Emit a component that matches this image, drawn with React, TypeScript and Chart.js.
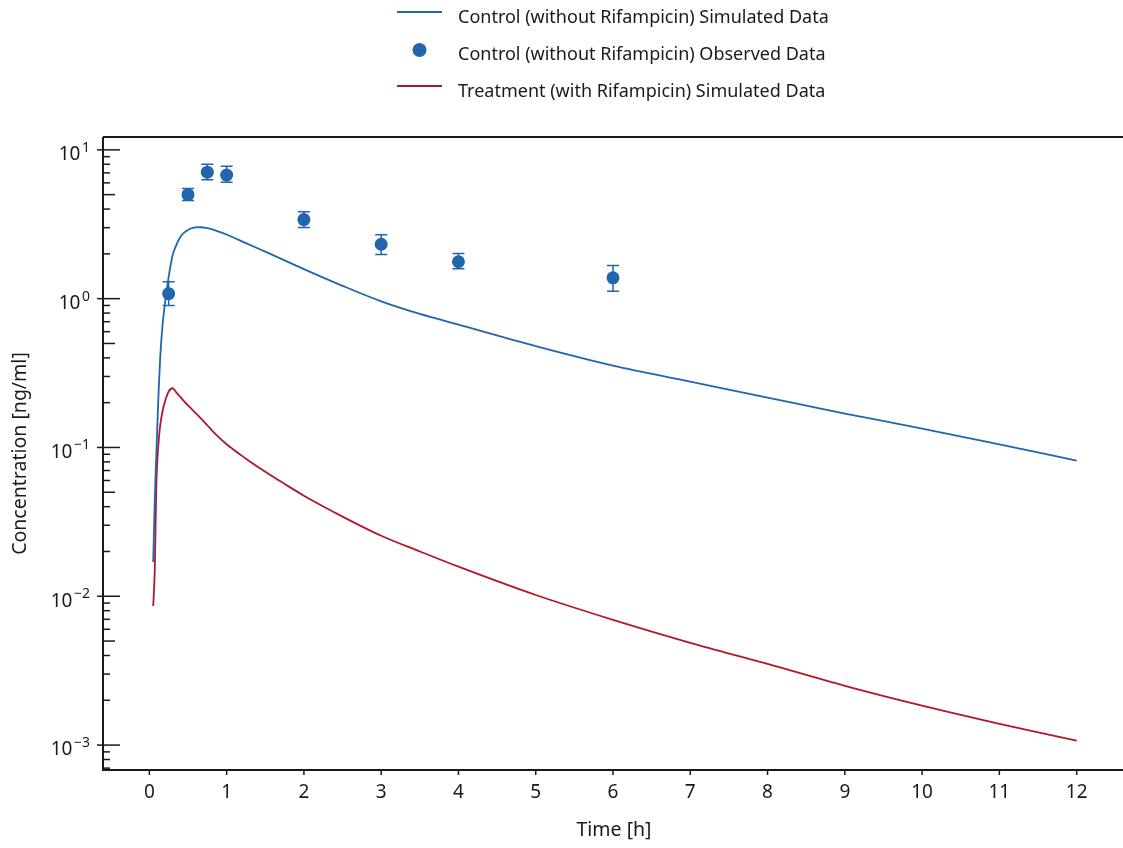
import React, { useEffect, useRef } from "react";
import { Chart, registerables } from "chart.js";

Chart.register(...registerables);

// ---------- data ----------
const simTime = [
  0.05, 0.07, 0.09, 0.12, 0.14, 0.17, 0.21, 0.25, 0.3, 0.35, 0.4, 0.45, 0.53,
  0.6, 0.66, 0.75, 0.85, 1.0, 1.25, 1.5, 1.75, 2, 2.5, 3, 3.5, 4, 5, 6, 7, 8,
  9, 10, 11, 12,
];
const controlSimulated = [
  0.017, 0.045, 0.09, 0.24, 0.4, 0.66, 1.0, 1.4, 1.95, 2.3, 2.6, 2.78, 2.95,
  3.01, 3.02, 2.98, 2.88, 2.7, 2.36, 2.07, 1.81, 1.58, 1.22, 0.96, 0.79, 0.67,
  0.48, 0.355, 0.277, 0.216, 0.169, 0.134, 0.105, 0.0815,
];
const treatmentSimulated = [
  0.0086, 0.015, 0.055, 0.11, 0.14, 0.175, 0.21, 0.238, 0.25, 0.234, 0.219,
  0.204, 0.185, 0.17, 0.158, 0.141, 0.124, 0.105, 0.0841, 0.0687, 0.0569,
  0.0474, 0.0343, 0.0255, 0.02, 0.0158, 0.0102, 0.00695, 0.00487, 0.00351,
  0.0025, 0.00184, 0.00139, 0.00107,
];
const obsTime = [0.25, 0.5, 0.75, 1, 2, 3, 4, 6];
const obsValue = [1.08, 5.0, 7.08, 6.77, 3.4, 2.32, 1.77, 1.38];
const obsLower = [0.9, 4.56, 6.3, 6.05, 3.01, 1.98, 1.59, 1.12];
const obsUpper = [1.3, 5.49, 8.0, 7.75, 3.83, 2.69, 2.01, 1.67];

const xTicks = [0, 1, 2, 3, 4, 5, 6, 7, 8, 9, 10, 11, 12];
const yMajorTicks = [1e-3, 1e-2, 1e-1, 1, 10];
const yTickExponents = ["−3", "−2", "−1", "0", "1"];

const seriesLabels = [
  "Control (without Rifampicin) Simulated Data",
  "Control (without Rifampicin) Observed Data",
  "Treatment (with Rifampicin) Simulated Data",
];
const xTitle = "Time [h]";
const yTitle = "Concentration [ng/ml]";

const BLUE = "#2166ac";
const RED = "#b2182b";
const AXIS = "#1a1a1a";
const FONT = "'Noto Sans', 'Open Sans', sans-serif";

const decorPlugin = {
  id: "decor",
  beforeDatasetsDraw(chart: any) {
    const ctx = chart.ctx;
    const x = chart.scales.x;
    const y = chart.scales.y;
    ctx.save();
    ctx.strokeStyle = BLUE;
    ctx.lineWidth = 1.5;
    obsTime.forEach((t, i) => {
      const px = x.getPixelForValue(t);
      const top = y.getPixelForValue(obsUpper[i]);
      const bot = y.getPixelForValue(obsLower[i]);
      ctx.beginPath();
      ctx.moveTo(px, top);
      ctx.lineTo(px, bot);
      ctx.moveTo(px - 6, top);
      ctx.lineTo(px + 6, top);
      ctx.moveTo(px - 6, bot);
      ctx.lineTo(px + 6, bot);
      ctx.stroke();
    });
    ctx.restore();
  },
  afterDraw(chart: any) {
    const ctx = chart.ctx;
    const area = chart.chartArea;
    const x = chart.scales.x;
    const y = chart.scales.y;
    ctx.save();
    // axes
    ctx.strokeStyle = AXIS;
    ctx.lineWidth = 2;
    ctx.beginPath();
    ctx.moveTo(area.left, area.top);
    ctx.lineTo(area.right, area.top);
    ctx.moveTo(area.left, area.top);
    ctx.lineTo(area.left, area.bottom);
    ctx.lineTo(area.right, area.bottom);
    ctx.stroke();

    // x ticks
    ctx.lineWidth = 1.5;
    ctx.fillStyle = AXIS;
    ctx.font = `19px ${FONT}`;
    ctx.textAlign = "center";
    ctx.textBaseline = "middle";
    xTicks.forEach((v) => {
      const px = x.getPixelForValue(v);
      ctx.beginPath();
      ctx.moveTo(px, area.bottom);
      ctx.lineTo(px, area.bottom + 5);
      ctx.stroke();
      ctx.fillText(String(v), px, area.bottom + 23);
    });

    // y ticks (major + minor)
    const lo = Math.floor(Math.log10(y.min));
    const hi = Math.ceil(Math.log10(y.max));
    for (let e = lo; e <= hi; e++) {
      for (let m = 1; m <= 9; m++) {
        const v = m * Math.pow(10, e);
        if (v < y.min || v > y.max) continue;
        const py = y.getPixelForValue(v);
        const len = m === 1 ? 17 : m === 5 ? 12 : 7;
        ctx.beginPath();
        ctx.moveTo(area.left - (m === 1 ? 6 : 0), py);
        ctx.lineTo(area.left + len, py);
        ctx.stroke();
      }
    }
    yMajorTicks.forEach((v, i) => {
      const py = y.getPixelForValue(v);
      const exp = yTickExponents[i];
      ctx.textAlign = "right";
      ctx.textBaseline = "middle";
      ctx.font = `14px ${FONT}`;
      const ew = ctx.measureText(exp).width;
      ctx.fillText(exp, area.left - 13, py - 2);
      ctx.font = `19px ${FONT}`;
      ctx.fillText("10", area.left - 13 - ew - 1.5, py + 5);
    });

    // axis titles
    ctx.font = `19.5px ${FONT}`;
    ctx.textAlign = "center";
    ctx.textBaseline = "middle";
    ctx.fillText(xTitle, (area.left + area.right) / 2 + 1, 830);
    ctx.save();
    ctx.translate(20, (area.top + area.bottom) / 2);
    ctx.rotate(-Math.PI / 2);
    ctx.fillText(yTitle, 0, 0);
    ctx.restore();

    // legend
    const rows = [18, 55, 92];
    ctx.textAlign = "left";
    ctx.font = `18px ${FONT}`;
    ctx.fillStyle = "#1a1a1a";
    seriesLabels.forEach((lab, i) => {
      ctx.fillText(lab, 458, rows[i]);
    });
    ctx.lineWidth = 2;
    ctx.strokeStyle = BLUE;
    ctx.beginPath();
    ctx.moveTo(397, 12);
    ctx.lineTo(442, 12);
    ctx.stroke();
    ctx.strokeStyle = RED;
    ctx.beginPath();
    ctx.moveTo(397, 86);
    ctx.lineTo(442, 86);
    ctx.stroke();
    ctx.fillStyle = BLUE;
    ctx.beginPath();
    ctx.arc(419.5, 50, 7, 0, Math.PI * 2);
    ctx.fill();
    ctx.restore();
  },
};

export default function App() {
  const ref = useRef<HTMLCanvasElement | null>(null);
  useEffect(() => {
    if (!ref.current) return;
    const chart = new Chart(ref.current, {
      type: "line",
      data: {
        datasets: [
          {
            label: seriesLabels[0],
            data: simTime.map((t, i) => ({ x: t, y: controlSimulated[i] })),
            borderColor: BLUE,
            borderWidth: 1.8,
            pointRadius: 0,
            cubicInterpolationMode: "monotone",
            fill: false,
          },
          {
            label: seriesLabels[1],
            data: obsTime.map((t, i) => ({ x: t, y: obsValue[i] })),
            showLine: false,
            pointRadius: 6.5,
            pointBackgroundColor: BLUE,
            pointBorderColor: BLUE,
            pointBorderWidth: 0,
            backgroundColor: BLUE,
          },
          {
            label: seriesLabels[2],
            data: simTime.map((t, i) => ({ x: t, y: treatmentSimulated[i] })),
            borderColor: RED,
            borderWidth: 1.8,
            pointRadius: 0,
            cubicInterpolationMode: "monotone",
            fill: false,
          },
        ],
      },
      options: {
        responsive: false,
        animation: false,
        events: [],
        layout: { autoPadding: false, padding: { top: 137, left: 0, right: 0, bottom: 0 } },
        plugins: { legend: { display: false }, tooltip: { enabled: false } },
        scales: {
          x: {
            type: "linear",
            min: -0.6,
            max: 12.6,
            grid: { display: false },
            border: { display: false },
            ticks: { display: false },
            afterFit: (s: any) => {
              s.height = 78;
            },
          },
          y: {
            type: "logarithmic",
            min: 6.8e-4,
            max: 12.2,
            grid: { display: false },
            border: { display: false },
            ticks: { display: false },
            afterFit: (s: any) => {
              s.width = 103;
            },
          },
        },
      },
      plugins: [decorPlugin],
    } as any);
    return () => chart.destroy();
  }, []);
  return (
    <div style={{ position: "fixed", left: 0, top: 0, width: 1123, height: 848, background: "#fff" }}>
      <canvas ref={ref} width={1123} height={848} style={{ width: 1123, height: 848, display: "block" }} />
    </div>
  );
}
